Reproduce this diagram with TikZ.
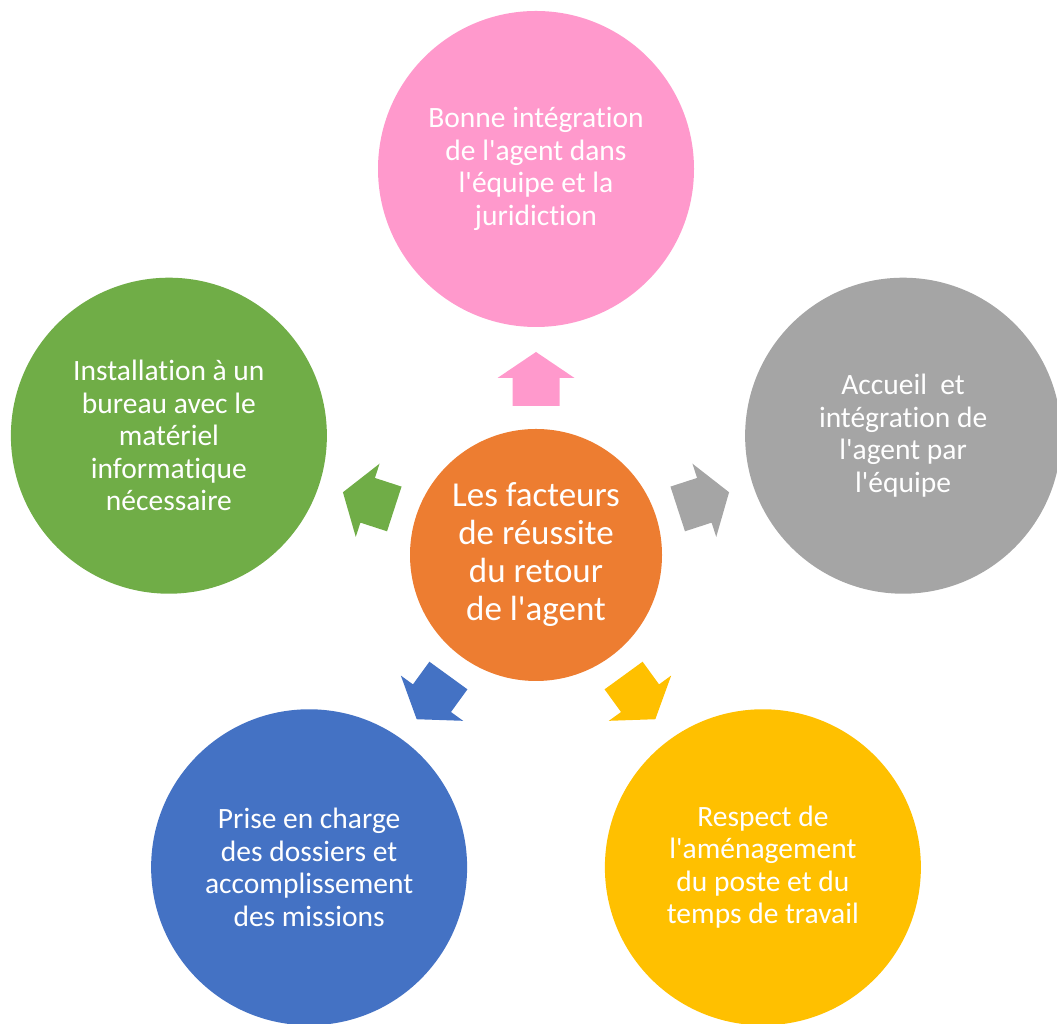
\documentclass[tikz,border=0pt]{standalone}
\usepackage{fontspec}
\setmainfont{Carlito}[Ligatures={TeXOff,NoCommon}]
\definecolor{cpink}{HTML}{FF99CC}
\definecolor{cgray}{HTML}{A5A5A5}
\definecolor{cgreen}{HTML}{70AD47}
\definecolor{cblue}{HTML}{4472C4}
\definecolor{cyellow}{HTML}{FFC000}
\definecolor{corange}{HTML}{ED7D31}
\begin{document}
\begin{tikzpicture}[x=1pt,y=1pt,
  outer/.style={circle,minimum size=316pt,inner sep=0pt,text=white,align=center,
    font=\fontsize{29.5}{32.5}\selectfont},
  hub/.style={circle,minimum size=252pt,inner sep=0pt,text=white,align=center,
    font=\fontsize{35}{38}\selectfont,fill=corange},
]
\useasboundingbox (0,0) rectangle (1057,1024);
\coordinate (c) at (536,469);
\node[hub] (center) at (c) {Les facteurs\\de réussite\\du retour\\de l'agent};
\node[outer,fill=cpink] (top) at ([shift={(90:386)}]c) {Bonne intégration\\de l'agent dans\\l'équipe et la\\juridiction};
\node[outer,fill=cgray] (right) at ([shift={(18:386)}]c) {Accueil\ \ et\\intégration de\\l'agent par\\l'équipe};
\node[outer,fill=cyellow] (bright) at ([shift={(-54:386)}]c) {Respect de\\l'aménagement\\du poste et du\\temps de travail};
\node[outer,fill=cblue] (bleft) at ([shift={(-126:386)}]c) {Prise en charge\\des dossiers et\\accomplissement\\des missions};
\node[outer,fill=cgreen] (left) at ([shift={(162:386)}]c) {Installation à un\\bureau avec le\\matériel\\informatique\\nécessaire};
\foreach \ang/\col in {90/cpink,18/cgray,-54/cyellow,-126/cblue,162/cgreen}{
  \begin{scope}[shift={(c)},rotate=\ang]
    \fill[\col] (149,-23.5) -- (177,-23.5) -- (177,-38.5) -- (203,0) -- (177,38.5) -- (177,23.5) -- (149,23.5) -- cycle;
  \end{scope}
}
\end{tikzpicture}
\end{document}
